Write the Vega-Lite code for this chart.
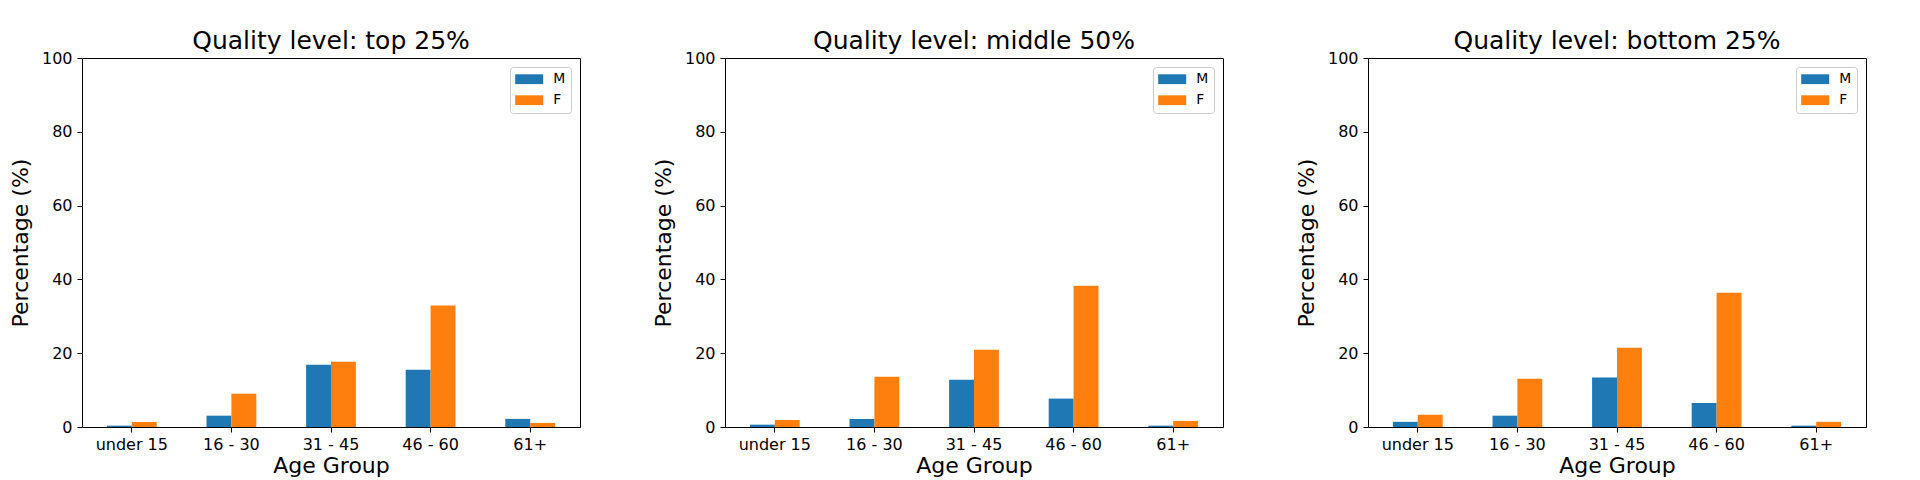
{
  "$schema": "https://vega.github.io/schema/vega-lite/v6.json",
  "background": "white",
  "padding": {"left": 8, "top": 28, "right": 5, "bottom": 0},
  "data": {"values": [
    {"level": "top 25%", "age": "under 15", "sex": "M", "pct": 0.36},
    {"level": "top 25%", "age": "under 15", "sex": "F", "pct": 1.36},
    {"level": "top 25%", "age": "16 - 30", "sex": "M", "pct": 3.07},
    {"level": "top 25%", "age": "16 - 30", "sex": "F", "pct": 9.03},
    {"level": "top 25%", "age": "31 - 45", "sex": "M", "pct": 16.9},
    {"level": "top 25%", "age": "31 - 45", "sex": "F", "pct": 17.7},
    {"level": "top 25%", "age": "46 - 60", "sex": "M", "pct": 15.5},
    {"level": "top 25%", "age": "46 - 60", "sex": "F", "pct": 32.9},
    {"level": "top 25%", "age": "61+", "sex": "M", "pct": 2.2},
    {"level": "top 25%", "age": "61+", "sex": "F", "pct": 1.1},
    {"level": "middle 50%", "age": "under 15", "sex": "M", "pct": 0.63},
    {"level": "middle 50%", "age": "under 15", "sex": "F", "pct": 1.9},
    {"level": "middle 50%", "age": "16 - 30", "sex": "M", "pct": 2.2},
    {"level": "middle 50%", "age": "16 - 30", "sex": "F", "pct": 13.6},
    {"level": "middle 50%", "age": "31 - 45", "sex": "M", "pct": 12.8},
    {"level": "middle 50%", "age": "31 - 45", "sex": "F", "pct": 20.96},
    {"level": "middle 50%", "age": "46 - 60", "sex": "M", "pct": 7.7},
    {"level": "middle 50%", "age": "46 - 60", "sex": "F", "pct": 38.3},
    {"level": "middle 50%", "age": "61+", "sex": "M", "pct": 0.36},
    {"level": "middle 50%", "age": "61+", "sex": "F", "pct": 1.65},
    {"level": "bottom 25%", "age": "under 15", "sex": "M", "pct": 1.4},
    {"level": "bottom 25%", "age": "under 15", "sex": "F", "pct": 3.3},
    {"level": "bottom 25%", "age": "16 - 30", "sex": "M", "pct": 3.07},
    {"level": "bottom 25%", "age": "16 - 30", "sex": "F", "pct": 13.1},
    {"level": "bottom 25%", "age": "31 - 45", "sex": "M", "pct": 13.4},
    {"level": "bottom 25%", "age": "31 - 45", "sex": "F", "pct": 21.5},
    {"level": "bottom 25%", "age": "46 - 60", "sex": "M", "pct": 6.5},
    {"level": "bottom 25%", "age": "46 - 60", "sex": "F", "pct": 36.4},
    {"level": "bottom 25%", "age": "61+", "sex": "M", "pct": 0.36},
    {"level": "bottom 25%", "age": "61+", "sex": "F", "pct": 1.4}
  ]},
  "config": {
    "font": "DejaVu Sans",
    "view": {"stroke": "#000", "strokeWidth": 1},
    "title": {"font": "DejaVu Sans", "fontSize": 25, "fontWeight": "normal", "color": "#000", "anchor": "middle", "frame": "group", "baseline": "alphabetic", "offset": -4},
    "axis": {
      "labelFont": "DejaVu Sans", "labelFontSize": 16, "labelColor": "#000",
      "titleFont": "DejaVu Sans", "titleFontSize": 22, "titleFontWeight": "normal", "titleColor": "#000",
      "domainColor": "#000", "domainWidth": 1, "tickColor": "#000", "tickWidth": 1, "tickSize": 5,
      "labelPadding": 4, "grid": false
    },
    "axisY": {"labelPadding": 5, "titlePadding": 9},
    "axisX": {"titlePadding": 3},
    "legend": {
      "labelFont": "DejaVu Sans", "labelFontSize": 13.9, "labelColor": "#000",
      "symbolType": "M-1,-0.7L3,-0.7L3,0.7L-1,0.7Z", "symbolSize": 196, "symbolStrokeWidth": 0, "symbolOpacity": 1,
      "labelOffset": 24, "rowPadding": 7, "padding": 5.2, "offset": 9,
      "strokeColor": "#cccccc", "fillColor": "white", "cornerRadius": 3
    }
  },
  "spacing": 70,
  "resolve": {"legend": {"color": "independent"}, "scale": {"color": "independent"}},
  "hconcat": [
    {
      "title": "Quality level: top 25%",
      "width": 498, "height": 369,
      "transform": [{"filter": "datum.level == 'top 25%'"}],
      "mark": {"type": "bar"},
      "encoding": {
        "x": {"field": "age", "type": "nominal", "sort": ["under 15", "16 - 30", "31 - 45", "46 - 60", "61+"], "scale": {"paddingInner": 0.5, "paddingOuter": 0.25}, "axis": {"title": "Age Group", "labelAngle": 0}},
        "xOffset": {"field": "sex", "type": "nominal", "sort": ["M", "F"]},
        "y": {"field": "pct", "type": "quantitative", "scale": {"domain": [0, 100], "nice": false}, "axis": {"title": "Percentage (%)", "values": [0, 20, 40, 60, 80, 100]}},
        "color": {"field": "sex", "type": "nominal", "sort": ["M", "F"], "scale": {"domain": ["M", "F"], "range": ["#1f77b4", "#ff7f0e"]}, "legend": {"title": null, "orient": "top-right"}}
      }
    },
    {
      "title": "Quality level: middle 50%",
      "width": 498, "height": 369,
      "transform": [{"filter": "datum.level == 'middle 50%'"}],
      "mark": {"type": "bar"},
      "encoding": {
        "x": {"field": "age", "type": "nominal", "sort": ["under 15", "16 - 30", "31 - 45", "46 - 60", "61+"], "scale": {"paddingInner": 0.5, "paddingOuter": 0.25}, "axis": {"title": "Age Group", "labelAngle": 0}},
        "xOffset": {"field": "sex", "type": "nominal", "sort": ["M", "F"]},
        "y": {"field": "pct", "type": "quantitative", "scale": {"domain": [0, 100], "nice": false}, "axis": {"title": "Percentage (%)", "values": [0, 20, 40, 60, 80, 100]}},
        "color": {"field": "sex", "type": "nominal", "sort": ["M", "F"], "scale": {"domain": ["M", "F"], "range": ["#1f77b4", "#ff7f0e"]}, "legend": {"title": null, "orient": "top-right"}}
      }
    },
    {
      "title": "Quality level: bottom 25%",
      "width": 498, "height": 369,
      "transform": [{"filter": "datum.level == 'bottom 25%'"}],
      "mark": {"type": "bar"},
      "encoding": {
        "x": {"field": "age", "type": "nominal", "sort": ["under 15", "16 - 30", "31 - 45", "46 - 60", "61+"], "scale": {"paddingInner": 0.5, "paddingOuter": 0.25}, "axis": {"title": "Age Group", "labelAngle": 0}},
        "xOffset": {"field": "sex", "type": "nominal", "sort": ["M", "F"]},
        "y": {"field": "pct", "type": "quantitative", "scale": {"domain": [0, 100], "nice": false}, "axis": {"title": "Percentage (%)", "values": [0, 20, 40, 60, 80, 100]}},
        "color": {"field": "sex", "type": "nominal", "sort": ["M", "F"], "scale": {"domain": ["M", "F"], "range": ["#1f77b4", "#ff7f0e"]}, "legend": {"title": null, "orient": "top-right"}}
      }
    }
  ]
}
